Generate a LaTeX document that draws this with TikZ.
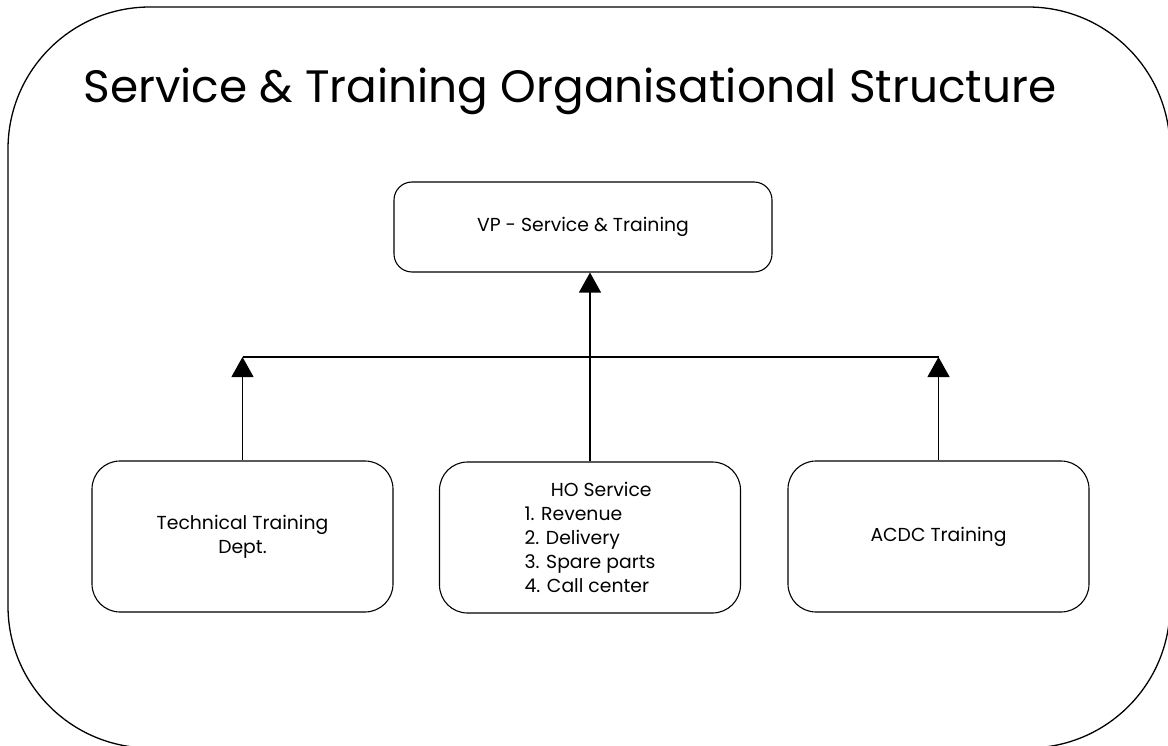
\documentclass[tikz,border=0pt]{standalone}
\usepackage{fontspec}
\setmainfont{Poppins}
\usetikzlibrary{arrows.meta}
\usetikzlibrary{positioning}

\begin{document}
\begin{tikzpicture}[x=1pt,y=-1pt,line width=1.1pt,
                block/.style={rectangle, rounded corners=28pt, draw, fill=white,
                    minimum width=301pt, minimum height=151pt, font=\fontsize{18.8}{24}\selectfont, align=center},
                topblock/.style={block, rounded corners=18pt, minimum width=378pt, minimum height=90pt},
                arrow/.style={draw,-{Triangle[width=22pt,length=20pt]}}
            ]
            \clip (0,0) rectangle (1168,746);
            % outer frame
            \draw[line width=1.3pt, rounded corners=142pt] (8,7) rectangle (1170,748);
            \node[anchor=base, font=\fontsize{45.4}{50}\selectfont] (title) at (570,103) {Service \& Training Organisational Structure};

            \node[topblock] (vp) at (583,227) {VP - Service \& Training};
            \node[block] (tech) at (242.5,536.5) {Technical Training\\Dept.};
            \node[block, align=left] (ho) at (590,537.5) {\hspace*{1.4em}HO Service\\1. Revenue\\2. Delivery\\3. Spare parts\\4. Call center};
            \node[block] (acdc) at (938.5,536.5) {ACDC Training};

            \coordinate (bar) at (590,357);
            \path[arrow] (ho.north) -- (ho.north |- vp.south);
            \path[arrow] (tech.north) -- (tech.north |- bar);
            \path[arrow] (acdc.north) -- (acdc.north |- bar);
            \draw (tech.north |- bar) -- (acdc.north |- bar);
        \end{tikzpicture}
\end{document}
